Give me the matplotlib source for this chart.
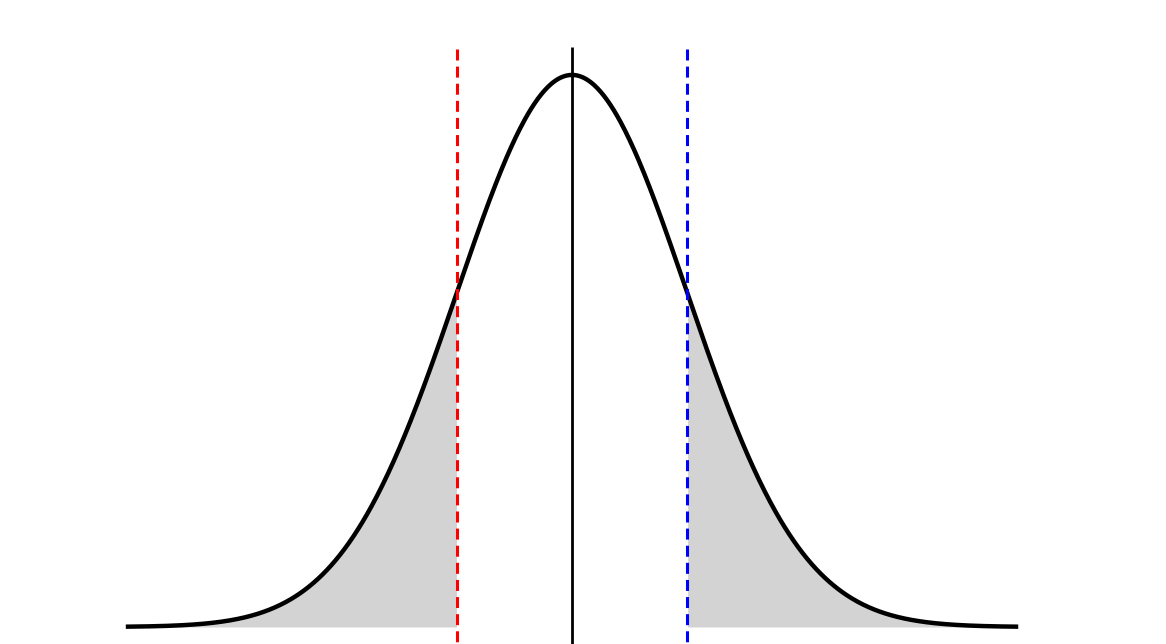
import numpy as np
import matplotlib
matplotlib.use("Agg")
import matplotlib.pyplot as plt

# Data
mean = 0.0
sd = 1.0
x_range = [-3.88, 3.88]
lower_cut = -1.0
upper_cut = 1.0

x = np.linspace(x_range[0], x_range[1], 800)
pdf = np.exp(-0.5 * ((x - mean) / sd) ** 2) / (sd * np.sqrt(2 * np.pi))

fig = plt.figure(figsize=(11.66, 6.44), dpi=100)
ax = fig.add_axes([0, 0, 1, 1])
ax.set_xlim(-4.974, 5.165)
ax.set_ylim(-0.0123, 0.4531)
ax.axis("off")

left = x <= lower_cut
right = x >= upper_cut
ax.fill_between(x[left], 0, pdf[left], color="lightgray", linewidth=0)
ax.fill_between(x[right], 0, pdf[right], color="lightgray", linewidth=0)

ax.plot(x, pdf, color="black", linewidth=3.2, solid_capstyle="butt")
ax.vlines(mean, -0.05, 0.419, color="black", linewidth=2)
dash = (0, (3.6, 2.0))
# draw from top downward so the dash pattern begins at the top
ax.vlines(lower_cut, 0.4177, -0.05, color="red", linewidth=2.2, linestyles=[dash])
ax.vlines(upper_cut, 0.4177, -0.05, color="blue", linewidth=2.2, linestyles=[dash])

fig.savefig("out.png", dpi=100)
